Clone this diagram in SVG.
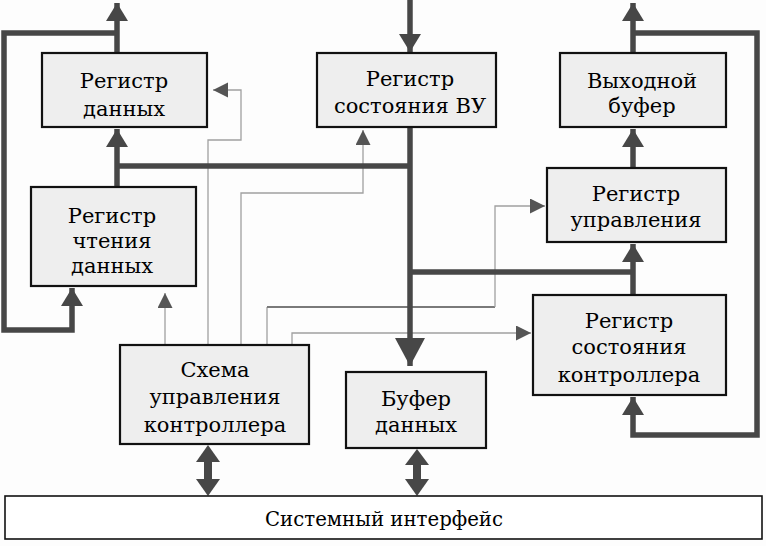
<svg xmlns="http://www.w3.org/2000/svg" width="766" height="546" viewBox="0 0 766 546">
<style>
.box{fill:#eeeeee;stroke:#111;stroke-width:2.2}
.bus{fill:#fff;stroke:#111;stroke-width:1.6}
.t{font-family:"DejaVu Serif","Liberation Serif",serif;font-size:21px;fill:#000;text-anchor:middle}
.thick{fill:none;stroke:#474747;stroke-width:5.5}
.thin{fill:none;stroke:#a0a0a0;stroke-width:1.3}
.mid{fill:none;stroke:#7a7a7a;stroke-width:2.2}
.head{fill:#474747}
.shead{fill:#555}
</style>
<defs>
<marker id="ah" markerUnits="userSpaceOnUse" markerWidth="20" markerHeight="24" refX="18" refY="11" orient="auto" viewBox="0 0 20 24">
<path d="M0,0 L18,11 L0,22 z" class="head"/>
</marker>
<marker id="big" markerUnits="userSpaceOnUse" markerWidth="30" markerHeight="32" refX="28" refY="15" orient="auto" viewBox="0 0 30 32">
<path d="M0,0 L28,15 L0,30 z" class="head"/>
</marker>
<marker id="sh" markerUnits="userSpaceOnUse" markerWidth="16" markerHeight="16" refX="15" refY="7.5" orient="auto" viewBox="0 0 16 16">
<path d="M0,0 L15,7.5 L0,15 z" class="shead"/>
</marker>
</defs>
<rect x="0" y="0" width="766" height="546" fill="#fdfdfd"/>
<g id="connectors">
<path class="thin" d="M165,345 L165,293" marker-end="url(#sh)"/>
<path class="thin" d="M208,345 L208,140 L241,140 L241,90 L213,90" marker-end="url(#sh)"/>
<path class="thin" d="M241,345 L241,193 L363,193 L363,130" marker-end="url(#sh)"/>
<path class="thin" d="M267,345 L267,307"/>
<path class="mid" d="M267,307 L495,307"/>
<path class="thin" d="M495,307 L495,206 L545,206" marker-end="url(#sh)"/>
<path class="thin" d="M292,345 L292,333 L531,333" marker-end="url(#sh)"/>
<path class="thick" d="M117,53 L117,3" marker-end="url(#ah)"/>
<path class="thick" d="M117,33 L4,33 L4,330 L72,330 L72,288" marker-end="url(#ah)"/>
<path class="thick" d="M117,187 L117,129" marker-end="url(#ah)"/>
<path class="thick" d="M117,166 L410,166"/>
<path class="thick" d="M410,0 L410,52" marker-end="url(#ah)"/>
<path class="thick" d="M410,127 L410,366" marker-end="url(#big)"/>
<path class="thick" d="M410,272 L633,272"/>
<path class="thick" d="M633,295 L633,244" marker-end="url(#ah)"/>
<path class="thick" d="M633,168 L633,129" marker-end="url(#ah)"/>
<path class="thick" d="M633,53 L633,3" marker-end="url(#ah)"/>
<path class="thick" d="M633,33 L757,33 L757,435 L633,435 L633,397" marker-end="url(#ah)"/>
<g class="head">
<rect x="204" y="458" width="8" height="26"/>
<path d="M208,445 L220,462 L196,462 z"/>
<path d="M208,496 L220,479 L196,479 z"/>
<rect x="413" y="462" width="8" height="22"/>
<path d="M417,449 L429,465 L405,465 z"/>
<path d="M417,496 L429,479 L405,479 z"/>
</g>
</g>
<g id="reg-dannyh">
<rect class="box" x="42" y="53" width="165" height="74"/>
<text class="t" x="124" y="88">Регистр</text>
<text class="t" x="124" y="116">данных</text>
</g>
<g id="reg-sost-vu">
<rect class="box" x="317" y="53" width="179" height="74"/>
<text class="t" x="410" y="86">Регистр</text>
<text class="t" x="410" y="113">состояния ВУ</text>
</g>
<g id="vyh-bufer">
<rect class="box" x="560" y="53" width="166" height="74"/>
<text class="t" x="642" y="88">Выходной</text>
<text class="t" x="642" y="113">буфер</text>
</g>
<g id="reg-chteniya">
<rect class="box" x="31" y="187" width="165" height="99"/>
<text class="t" x="112" y="223">Регистр</text>
<text class="t" x="112" y="248">чтения</text>
<text class="t" x="112" y="273">данных</text>
</g>
<g id="reg-upr">
<rect class="box" x="547" y="168" width="179" height="74"/>
<text class="t" x="636" y="201">Регистр</text>
<text class="t" x="636" y="227">управления</text>
</g>
<g id="reg-sost-kontr">
<rect class="box" x="533" y="295" width="193" height="100"/>
<text class="t" x="629" y="328">Регистр</text>
<text class="t" x="629" y="354">состояния</text>
<text class="t" x="629" y="382">контроллера</text>
</g>
<g id="shema-upr">
<rect class="box" x="120" y="345" width="189" height="99"/>
<text class="t" x="215" y="377">Схема</text>
<text class="t" x="215" y="404">управления</text>
<text class="t" x="215" y="432">контроллера</text>
</g>
<g id="bufer-dannyh">
<rect class="box" x="346" y="372" width="140" height="76"/>
<text class="t" x="416" y="406">Буфер</text>
<text class="t" x="416" y="432">данных</text>
</g>
<g id="sys-interface">
<rect class="bus" x="5" y="496" width="757" height="43"/>
<text class="t" x="384" y="526" textLength="238" lengthAdjust="spacingAndGlyphs">Системный интерфейс</text>
</g>
</svg>
